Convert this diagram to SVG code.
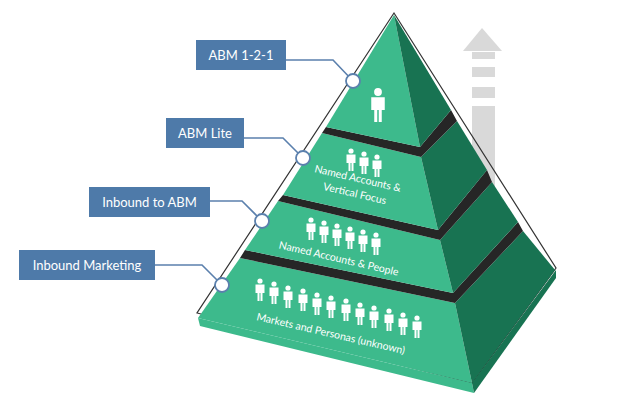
<svg xmlns="http://www.w3.org/2000/svg" width="640" height="415" viewBox="0 0 640 415">
<style>
.lt{fill:#3dba8c}.dk{fill:#187352}.bd{fill:#262626}
.box{fill:#4e7aa9}
.bt{font-family:Lato,"Liberation Sans",sans-serif;font-size:13px;fill:#fff}
.pt{font-family:Lato,"Liberation Sans",sans-serif;font-size:10.5px;fill:#fff}
.cn{fill:none;stroke:#5b80ad;stroke-width:1.6}
.dot{fill:#fff;stroke:#5b80ad;stroke-width:1.8}
.ar{fill:#d9d9d9}
</style>
<defs>
<g id="p" fill="#fff">
<circle cx="0" cy="-10" r="2.6"/>
<path d="M-4.5,-6.5 H4.5 V2 H2.5 V10 H0.5 V2 H-0.5 V10 H-2.5 V2 H-4.5 Z"/>
</g>
</defs>
<rect width="640" height="415" fill="#fff"/>
<g id="arrow">
<polygon class="ar" points="463,51 482,28 502,51"/>
<rect class="ar" x="472" y="52" width="23" height="7"/>
<rect class="ar" x="472" y="67" width="23" height="10"/>
<rect class="ar" x="472" y="87" width="23" height="11"/>
<rect class="ar" x="472" y="106" width="23" height="80"/>
</g>
<g id="pyramid">
<polygon points="394,13 197,313 472,383 556,268" fill="none" stroke="#333" stroke-width="1.2"/>
<polygon class="lt" points="198,318 200,326 474,393 472,383"/>
<polygon class="dk" points="472,383 474,393 556,278 556,270"/>
<g id="tier4">
<polygon class="lt" points="240,258 198,318 472,383 455,303"/>
<polygon class="dk" points="455,303 472,383 555,270 523,231"/>
<polygon class="bd" points="245,250 453,293 518,222 523,231 455,303 240,258"/>
</g>
<g id="tier3">
<polygon class="lt" points="278,201 245,250 453,293 440,240"/>
<polygon class="dk" points="440,240 453,293 518,222 492,182"/>
<polygon class="bd" points="283,195 438,230 487,170 492,182 440,240 278,201"/>
</g>
<g id="tier2">
<polygon class="lt" points="322,133 283,195 438,230 421,157"/>
<polygon class="dk" points="421,157 438,230 487,170 457,121"/>
<polygon class="bd" points="326,127 420,147 451,110 457,121 421,157 322,133"/>
</g>
<g id="tier1">
<polygon class="lt" points="394,15 326,127 420,147"/>
<polygon class="dk" points="394,15 420,147 451,110"/>
</g>
<use href="#p" transform="translate(378,107) scale(1.5)"/>
<use href="#p" x="351" y="161"/><use href="#p" x="364" y="164"/><use href="#p" x="377" y="167"/>
<use href="#p" x="311" y="230"/><use href="#p" x="324" y="233"/><use href="#p" x="337" y="236"/><use href="#p" x="350" y="239"/><use href="#p" x="363" y="242"/><use href="#p" x="376" y="245"/>
<use href="#p" x="260" y="291"/><use href="#p" x="274" y="294"/><use href="#p" x="288" y="298"/><use href="#p" x="303" y="301"/><use href="#p" x="317" y="305"/><use href="#p" x="331" y="308"/><use href="#p" x="346" y="311"/><use href="#p" x="360" y="315"/><use href="#p" x="374" y="318"/><use href="#p" x="389" y="321"/><use href="#p" x="403" y="325"/><use href="#p" x="417" y="328"/>
<text class="pt" text-anchor="middle" transform="translate(357,182) rotate(13)">Named Accounts &amp;</text>
<text class="pt" text-anchor="middle" transform="translate(354,197) rotate(13)">Vertical Focus</text>
<text class="pt" text-anchor="middle" transform="translate(338,262) rotate(13)">Named Accounts &amp; People</text>
<text class="pt" text-anchor="middle" transform="translate(330,337) rotate(13)">Markets and Personas (unknown)</text>
</g>
<g id="connectors">
<polyline class="cn" points="286,60 333,60 353,81"/>
<polyline class="cn" points="244,138 283,138 303,158"/>
<polyline class="cn" points="210,201 242,201 262,221"/>
<polyline class="cn" points="155,265 202,265 222,285"/>
<circle class="dot" cx="353" cy="81" r="7"/>
<circle class="dot" cx="303" cy="158" r="7"/>
<circle class="dot" cx="262" cy="221" r="7"/>
<circle class="dot" cx="222" cy="285" r="7"/>
</g>
<g id="n-abm121"><rect class="box" x="196" y="40" width="90" height="30"/><text class="bt" x="241" y="60" text-anchor="middle">ABM 1-2-1</text></g>
<g id="n-abmlite"><rect class="box" x="166" y="118" width="78" height="30"/><text class="bt" x="205" y="138" text-anchor="middle">ABM Lite</text></g>
<g id="n-inabm"><rect class="box" x="89" y="187" width="121" height="30"/><text class="bt" x="149.5" y="207" text-anchor="middle">Inbound to ABM</text></g>
<g id="n-inmkt"><rect class="box" x="19" y="250" width="136" height="30"/><text class="bt" x="87" y="270" text-anchor="middle">Inbound Marketing</text></g>
</svg>
